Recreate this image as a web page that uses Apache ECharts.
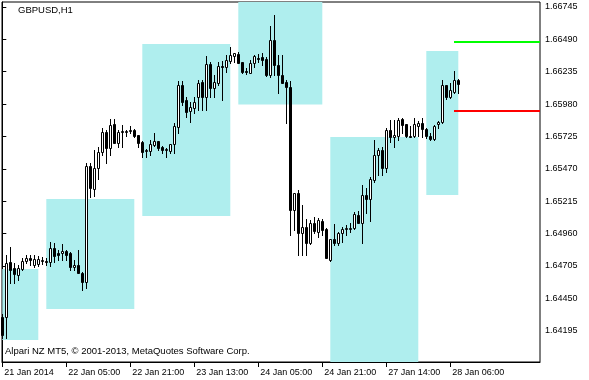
<!DOCTYPE html>
<html>
<head>
<meta charset="utf-8">
<script src="https://cdn.jsdelivr.net/npm/echarts@6/dist/echarts.min.js"></script>
<style>
html,body{margin:0;padding:0;background:#fff;}
#chart{width:589px;height:380px;}
</style>
</head>
<body>
<div id="chart"></div>
<script>
// ---- data (hourly GBPUSD bars, index 0 = 21 Jan 2014 13:00) ----
const open = [1.64303,1.64303,1.64736,1.64689,1.64634,1.64681,1.64744,1.64768,1.64712,1.64720,
1.64744,1.64744,1.64736,1.64846,1.64807,1.64807,1.64823,1.64807,1.64697,1.64712,
1.64649,1.64578,1.65492,1.65311,1.65477,1.65603,1.65760,1.65634,1.65823,1.65673,
1.65760,1.65760,1.65768,1.65776,1.65736,1.65681,1.65610,1.65610,1.65658,1.65689,
1.65642,1.65618,1.65610,1.65666,1.65800,1.66130,1.66012,1.65926,1.65949,1.66036,
1.66154,1.66036,1.66296,1.66107,1.66146,1.66280,1.66272,1.66319,1.66359,1.66375,
1.66312,1.66241,1.66225,1.66304,1.66343,1.66351,1.66335,1.66209,1.66485,1.66288,
1.66209,1.66154,1.66115,1.65146,1.65280,1.64964,1.65012,1.64886,1.65043,1.64972,
1.65059,1.64996,1.64752,1.64917,1.64886,1.64964,1.64996,1.64996,1.65004,1.65106,
1.65043,1.65264,1.65232,1.65382,1.65579,1.65618,1.65477,1.65776,1.65721,1.65729,
1.65863,1.65823,1.65729,1.65729,1.65807,1.65831,1.65784,1.65729,1.65705,1.65823,
1.65839,1.66130,1.66036,1.66075,1.66170];
const close = [1.64161,1.64728,1.64673,1.64641,1.64689,1.64744,1.64768,1.64752,1.64760,1.64760,
1.64752,1.64736,1.64846,1.64783,1.64791,1.64823,1.64791,1.64697,1.64712,1.64649,
1.64578,1.65492,1.65319,1.65477,1.65603,1.65760,1.65634,1.65815,1.65673,1.65760,
1.65768,1.65768,1.65776,1.65729,1.65673,1.65603,1.65618,1.65666,1.65689,1.65634,
1.65618,1.65626,1.65666,1.65807,1.66130,1.65996,1.65918,1.65957,1.65996,1.66146,
1.66036,1.66296,1.66107,1.66154,1.66280,1.66272,1.66327,1.66367,1.66382,1.66304,
1.66233,1.66233,1.66304,1.66359,1.66335,1.66327,1.66209,1.66485,1.66288,1.66209,
1.66146,1.66115,1.65146,1.65280,1.64964,1.65012,1.64886,1.65043,1.64980,1.65067,
1.64988,1.64768,1.64917,1.64886,1.64964,1.64996,1.65004,1.65004,1.65114,1.65043,
1.65264,1.65232,1.65390,1.65579,1.65618,1.65477,1.65776,1.65721,1.65736,1.65855,
1.65815,1.65729,1.65721,1.65823,1.65831,1.65784,1.65729,1.65705,1.65807,1.65839,
1.66130,1.66036,1.66091,1.66170,1.66138];
const low = [1.64137,1.64137,1.64571,1.64571,1.64594,1.64673,1.64728,1.64712,1.64697,1.64704,
1.64720,1.64712,1.64704,1.64736,1.64752,1.64752,1.64752,1.64673,1.64673,1.64649,
1.64515,1.64531,1.65248,1.65256,1.65390,1.65579,1.65516,1.65579,1.65673,1.65642,
1.65642,1.65729,1.65752,1.65721,1.65642,1.65563,1.65563,1.65579,1.65650,1.65618,
1.65595,1.65563,1.65595,1.65595,1.65752,1.65973,1.65878,1.65839,1.65910,1.65933,
1.65933,1.65933,1.66036,1.66036,1.66130,1.66012,1.66233,1.66304,1.66312,1.66304,
1.66225,1.66217,1.66225,1.66272,1.66312,1.66288,1.66201,1.66193,1.66209,1.66067,
1.66146,1.65831,1.64949,1.64988,1.64791,1.64791,1.64791,1.64878,1.64964,1.64933,
1.64949,1.64768,1.64744,1.64870,1.64870,1.64894,1.64949,1.64972,1.64996,1.65043,
1.64886,1.65122,1.65059,1.65366,1.65421,1.65421,1.65445,1.65681,1.65642,1.65697,
1.65752,1.65721,1.65721,1.65721,1.65729,1.65721,1.65713,1.65697,1.65697,1.65792,
1.65831,1.66020,1.66028,1.66067,1.66067];
const high = [1.64326,1.64791,1.64854,1.64728,1.64712,1.64768,1.64791,1.64791,1.64791,1.64783,
1.64775,1.64768,1.64894,1.64886,1.64831,1.64878,1.64831,1.64815,1.64752,1.64831,
1.64657,1.65516,1.65516,1.65618,1.65642,1.65792,1.65776,1.65863,1.65863,1.65776,
1.65815,1.65776,1.65807,1.65784,1.65736,1.65689,1.65626,1.65697,1.65752,1.65689,
1.65650,1.65634,1.65666,1.65831,1.66162,1.66162,1.66036,1.65996,1.66036,1.66170,
1.66170,1.66359,1.66312,1.66209,1.66312,1.66319,1.66367,1.66430,1.66382,1.66390,
1.66312,1.66264,1.66327,1.66367,1.66375,1.66382,1.66351,1.66595,1.66682,1.66367,
1.66367,1.66170,1.66162,1.65280,1.65303,1.65185,1.65075,1.65067,1.65091,1.65083,
1.65075,1.65004,1.64917,1.65035,1.64972,1.65012,1.65027,1.65043,1.65130,1.65138,
1.65343,1.65319,1.65406,1.65697,1.65634,1.65642,1.65792,1.65855,1.65855,1.65870,
1.65870,1.65823,1.65807,1.65870,1.65847,1.65870,1.65792,1.65752,1.65815,1.65847,
1.66170,1.66130,1.66146,1.66241,1.66178];

// daily range boxes: first bar, last bar, upper price, lower price
const boxStart = [0, 11, 35, 59, 82, 106];
const boxEnd   = [9, 33, 57, 80, 104, 114];
const boxHigh  = [1.64681, 1.65232, 1.66453, 1.66800, 1.65721, 1.66398];
const boxLow   = [1.64121, 1.64366, 1.65098, 1.65977, 1.63900, 1.65264];

// horizontal levels
const levelStart = 113;
const levelGreen = 1.66469;
const levelRed   = 1.65928;

// axis labels
const xLabelIdx = [0, 16, 32, 48, 64, 80, 96, 112];
const xLabels = ['21 Jan 2014','22 Jan 05:00','22 Jan 21:00','23 Jan 13:00','24 Jan 05:00','24 Jan 21:00','27 Jan 14:00','28 Jan 06:00'];
const yLabels = [1.64195,1.64450,1.64705,1.64960,1.65215,1.65470,1.65725,1.65980,1.66235,1.66490,1.66745];

const FONT = 'Liberation Sans, Arial, sans-serif';
const chart = echarts.init(document.getElementById('chart'), null, {renderer: 'canvas'});

const candleData = open.map((o, i) => [i, o, close[i], low[i], high[i]]);
const boxData = boxStart.map((s, k) => [s, boxEnd[k], boxLow[k], boxHigh[k]]);

function clipToGrid(shape, params) {
  return echarts.graphic.clipRectByRect(shape, {
    x: params.coordSys.x, y: params.coordSys.y,
    width: params.coordSys.width, height: params.coordSys.height
  });
}

chart.setOption({
  animation: false,
  backgroundColor: '#fff',
  grid: {left: 2, right: 49, top: 2, bottom: 18, show: true, borderColor: '#000', borderWidth: 1, backgroundColor: '#fff'},
  xAxis: {
    type: 'value', min: -0.075, max: 134.425,
    axisLine: {show: true, lineStyle: {color: '#000', width: 1}},
    axisTick: {show: true, customValues: xLabelIdx, length: 5, lineStyle: {color: '#000'}},
    axisLabel: {customValues: xLabelIdx, align: 'left', margin: 6, padding: [0,0,0,2],
      color: '#000', fontFamily: FONT, fontSize: 9,
      formatter: v => xLabels[xLabelIdx.indexOf(Math.round(v))] || ''},
    splitLine: {show: false}
  },
  yAxis: {
    type: 'value', position: 'right', min: 1.63948, max: 1.66784, scale: true,
    axisLine: {show: true, lineStyle: {color: '#000', width: 1}},
    axisTick: {show: true, customValues: yLabels, length: 4, inside: false, lineStyle: {color: '#000'}},
    axisLabel: {customValues: yLabels, margin: 5, color: '#000', fontFamily: FONT, fontSize: 9,
      formatter: v => v.toFixed(5)},
    splitLine: {show: false}
  },
  graphic: [
    {type: 'text', left: 18, top: 5, style: {text: 'GBPUSD,H1', fill: '#000', font: '9.5px ' + FONT}},
    {type: 'text', left: 5, top: 346, style: {text: 'Alpari NZ MT5, © 2001-2013, MetaQuotes Software Corp.', fill: '#000', font: '9.5px ' + FONT}}
  ],
  series: [
    {
      type: 'custom', name: 'boxes', data: boxData, silent: true,
      renderItem(params, api) {
        const p1 = api.coord([api.value(0), api.value(3)]);
        const p2 = api.coord([api.value(1), api.value(2)]);
        const shape = clipToGrid({x: p1[0], y: p1[1], width: p2[0] - p1[0], height: p2[1] - p1[1]}, params);
        return shape && {type: 'rect', shape, style: {fill: '#AFEEEE'}};
      }
    },
    {
      type: 'custom', name: 'candles', data: candleData, silent: true,
      renderItem(params, api) {
        const i = api.value(0), o = api.value(1), c = api.value(2), l = api.value(3), h = api.value(4);
        const pO = api.coord([i, o]), pC = api.coord([i, c]);
        const pL = api.coord([i, l]), pH = api.coord([i, h]);
        const x = Math.floor(pO[0]) + 0.5;
        const top = Math.round(Math.min(pO[1], pC[1]));
        const bot = Math.round(Math.max(pO[1], pC[1]));
        const bull = c > o;
        return {type: 'group', children: [
          {type: 'line', shape: {x1: x, y1: Math.round(pH[1]), x2: x, y2: Math.round(pL[1]) + 1},
            style: {stroke: '#000', lineWidth: 1}},
          {type: 'rect', shape: {x: x - 1, y: top + 0.5, width: 2, height: Math.max(0, bot - top)},
            style: {fill: bull ? '#fff' : '#000', stroke: '#000', lineWidth: 1}}
        ]};
      }
    },
    {
      type: 'custom', name: 'levels', silent: true,
      data: [[levelStart, levelGreen, 0], [levelStart, levelRed, 1]],
      renderItem(params, api) {
        const p = api.coord([api.value(0), api.value(1)]);
        const right = params.coordSys.x + params.coordSys.width;
        const y = Math.round(p[1]);
        return {type: 'line', shape: {x1: Math.floor(p[0]), y1: y, x2: right, y2: y},
          style: {stroke: api.value(2) === 0 ? '#00FF00' : '#FF0000', lineWidth: 2}};
      }
    }
  ]
});
</script>
</body>
</html>
